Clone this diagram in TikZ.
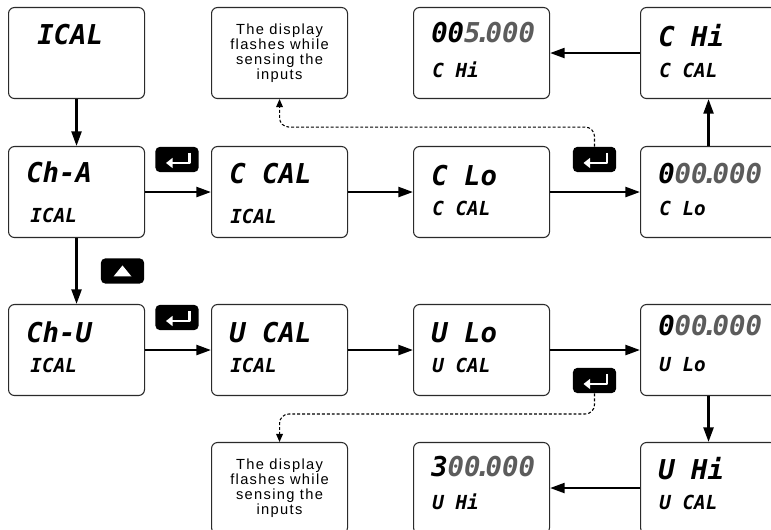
\documentclass[tikz,border=0pt]{standalone}
\usepackage{fontspec}
\setmainfont{Liberation Sans}
\newfontfamily\segfont{DejaVu Sans Mono}
\newfontfamily\notefont{Liberation Sans}[LetterSpace=9]
\usepackage{tikz}
\usetikzlibrary{arrows.meta, positioning, calc}
\definecolor{boxline}{HTML}{2A2A2A}
\definecolor{segdim}{HTML}{5C5C5C}
\newcommand{\segdot}{\kern-4.3pt.\kern-4.3pt}

\begin{document}
\begin{tikzpicture}[x=0.75pt, y=-0.75pt,
  dispbox/.style={draw=boxline, line width=0.8pt, rounded corners=4.5pt,
    minimum width=102pt, minimum height=68.25pt, anchor=north west, inner sep=0pt},
  segbig/.style={inner sep=0pt, anchor=base west,
    font=\segfont\bfseries\itshape\fontsize{20.5}{22}\selectfont},
  segsmall/.style={inner sep=0pt, anchor=base west,
    font=\segfont\bfseries\itshape\fontsize{14.5}{16}\selectfont},
  notebox/.style={dispbox, align=center,
    font=\notefont\fontsize{11}{11.3}\selectfont},
  keybox/.style={fill=black, rounded corners=3.5pt, minimum width=32.5pt,
    minimum height=19pt, inner sep=0pt},
  flow/.style={line width=1.8pt, -{Triangle[length=11pt,width=7.5pt]}},
  dashflow/.style={line width=0.8pt, dash pattern=on 2.2pt off 1.5pt,
    rounded corners=7pt, -{Triangle[length=6pt,width=5pt]}}
  ]
  \useasboundingbox (0,0) rectangle (771,530);

  % Displays
  \node[dispbox] (ical) at (8,7) {};
  \node[segbig] (ical-t) at ($(ical.north west)+(29,38)$) {ICAL};

  \foreach \n/\x/\y/\tA/\tB/\ya/\yb in {
      cha/8/146/Ch-A/{\,ICAL}/37/77,
      ccal/211/146/C CAL/ICAL/38/78,
      clo/413/146/C Lo/C CAL/40/70,
      czero/640/146/{0\textcolor{segdim}{00\segdot000}}/C Lo/38/70,
      chi/640/7/C Hi/C CAL/40/71,
      cfive/413/7/{00\textcolor{segdim}{5\segdot000}}/C Hi/36/71,
      chu/8/304/Ch-U/{\,ICAL}/39/69,
      ucal/211/304/U CAL/ICAL/39/69,
      ulo/413/304/U Lo/U CAL/39/69,
      uzero/640/304/{0\textcolor{segdim}{00\segdot000}}/U Lo/32/68,
      uhi/640/442/U Hi/U CAL/38/68,
      uthree/413/442/{3\textcolor{segdim}{00\segdot000}}/U Hi/35/68} {
    \node[dispbox] (\n) at (\x,\y) {};
    \node[segbig] (\n-t) at ($(\n.north west)+(18,\ya)$) {\tA};
    \node[segsmall] (\n-b) at ($(\n.north west)+(19,\yb)$) {\tB};
  }

  % Notes
  \node[notebox] (noteA) at (211,7) {The display\\flashes while\\sensing the\\inputs};
  \node[notebox] (noteB) at (211,442) {The display\\flashes while\\sensing the\\inputs};

  % Keys
  \foreach \n/\x/\y in {enA/177/159.5, enB/594.5/159.5, enC/177/317.5, enD/594.5/380.5} {
    \node[keybox] (\n) at (\x,\y) {};
    \draw[white, line width=1.9pt, line join=round,
      -{Triangle[length=5pt,width=7.5pt]}]
      ($(\n)+(12.5,-6.5)$) -- ($(\n)+(12.5,3.5)$) -- ($(\n)+(-11,3.5)$);
  }
  \node[keybox] (upkey) at (122.5,271) {};
  \fill[white] ($(upkey)+(-9,5.5)$) -- ($(upkey)+(9,5.5)$) -- ($(upkey)+(0,-5.5)$) -- cycle;

  % Connectors
  \draw[flow] (ical) -- (cha);
  \draw[flow] (cha) -- (ccal);
  \draw[flow] (ccal) -- (clo);
  \draw[flow] (clo) -- (czero);
  \draw[flow] (czero) -- (chi);
  \draw[flow] (chi) -- (cfive);
  \draw[flow] (cha) -- (chu);
  \draw[flow] (chu) -- (ucal);
  \draw[flow] (ucal) -- (ulo);
  \draw[flow] (ulo) -- (uzero);
  \draw[flow] (uzero) -- (uhi);
  \draw[flow] (uhi) -- (uthree);

  \draw[dashflow] (enB.north) |- ($(noteA.south)+(0,28)$) -- (noteA.south);
  \draw[dashflow] (enD.south) |- ($(noteB.north)+(0,-28)$) -- (noteB.north);
\end{tikzpicture}
\end{document}
